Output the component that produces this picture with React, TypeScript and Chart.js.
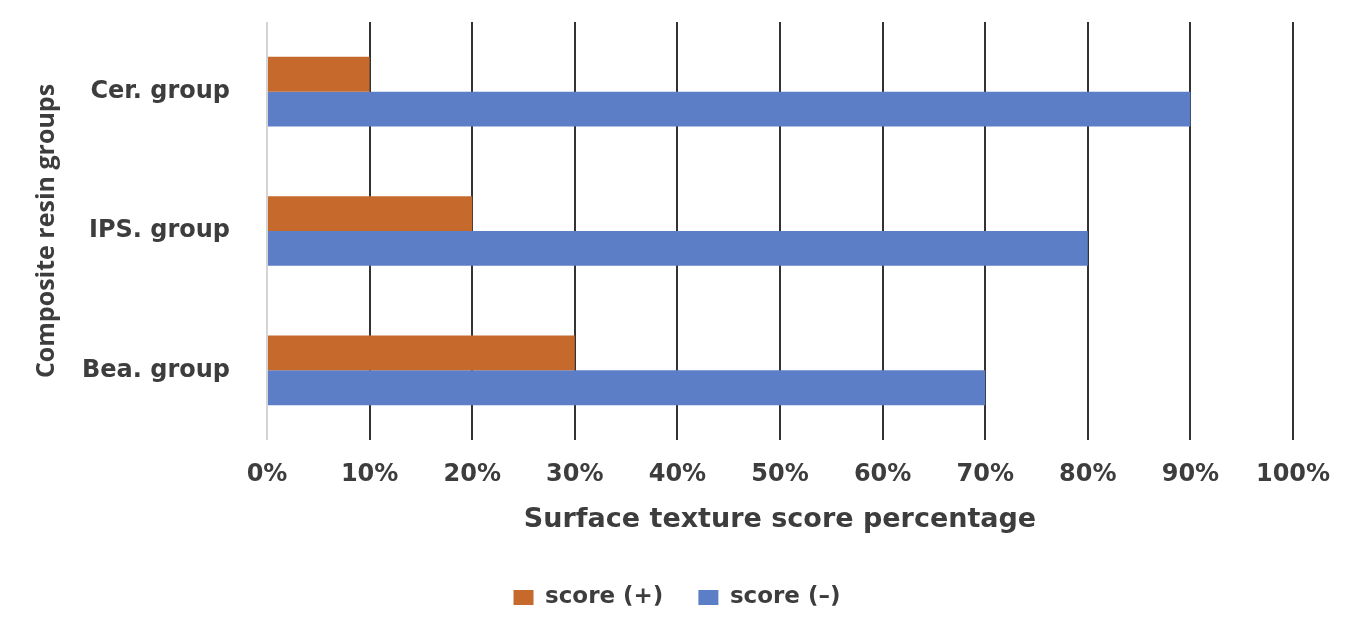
import React, { useEffect, useRef } from "react";
import { Chart, registerables } from "chart.js";

Chart.register(...registerables);

const categories = ["Cer. group", "IPS. group", "Bea. group"];
const scorePlus = [10, 20, 30];
const scoreMinus = [90, 80, 70];
const seriesNames = ["score (+)", "score (–)"];
const xTicks = [0, 10, 20, 30, 40, 50, 60, 70, 80, 90, 100];

const FONT = "'DejaVu Sans', sans-serif";
const FONT_Y = "'Open Sans', 'DejaVu Sans', sans-serif";
const TEXT = "#3d3d3d";

export default function App() {
  const ref = useRef<HTMLCanvasElement | null>(null);
  useEffect(() => {
    if (!ref.current) return;
    const chart = new Chart(ref.current, {
      type: "bar",
      data: {
        labels: categories,
        datasets: [
          {
            label: seriesNames[0],
            data: scorePlus,
            backgroundColor: "#C6692D",
            categoryPercentage: 0.5,
            barPercentage: 1,
          },
          {
            label: seriesNames[1],
            data: scoreMinus,
            backgroundColor: "#5B7EC7",
            categoryPercentage: 0.5,
            barPercentage: 1,
          },
        ],
      },
      options: {
        indexAxis: "y",
        animation: false,
        responsive: false,
        maintainAspectRatio: false,
        layout: { padding: { top: 22, right: 0, left: 0, bottom: 0 } },
        plugins: {
          tooltip: { enabled: false },
          legend: {
            position: "bottom",
            labels: {
              boxWidth: 20,
              boxHeight: 15,
              padding: 35,
              color: TEXT,
              font: { family: FONT, size: 23, weight: "bold" },
            },
          },
        },
        scales: {
          x: {
            min: 0,
            max: 100,
            afterBuildTicks: (s: any) => {
              s.ticks = xTicks.map((v) => ({ value: v }));
            },
            afterFit: (s: any) => {
              s.height = 111;
              s.paddingLeft = 0;
              s.paddingRight = 61;
            },
            border: { display: false },
            grid: {
              drawTicks: false,
              lineWidth: 2,
              color: (c: any) => (c.index === 0 ? "#d4d4d4" : "#333333"),
            },
            ticks: {
              padding: 20,
              color: TEXT,
              font: { family: FONT, size: 24, weight: "bold" },
              callback: (v: any) => v + "%",
            },
            title: {
              display: true,
              text: "Surface texture score percentage",
              color: TEXT,
              font: { family: FONT, size: 27, weight: "bold" },
              padding: { top: 0, bottom: 15 },
            },
          },
          y: {
            afterFit: (s: any) => {
              s.width = 267;
              s.paddingTop = 0;
              s.paddingBottom = 0;
            },
            border: { display: false },
            grid: { display: false, drawTicks: false },
            ticks: {
              padding: 37,
              color: TEXT,
              font: { family: FONT, size: 24, weight: "bold" },
            },
            title: {
              display: true,
              text: "Composite resin groups",
              color: TEXT,
              font: { family: FONT_Y, size: 25, weight: "bold" },
              padding: { top: 32, bottom: 0 },
            },
          },
        },
      },
    });
    return () => chart.destroy();
  }, []);
  return (
    <div style={{ position: "absolute", left: 0, top: 0, width: 1354, height: 619, background: "#fff" }}>
      <canvas ref={ref} width={1354} height={619} style={{ display: "block" }} />
    </div>
  );
}
